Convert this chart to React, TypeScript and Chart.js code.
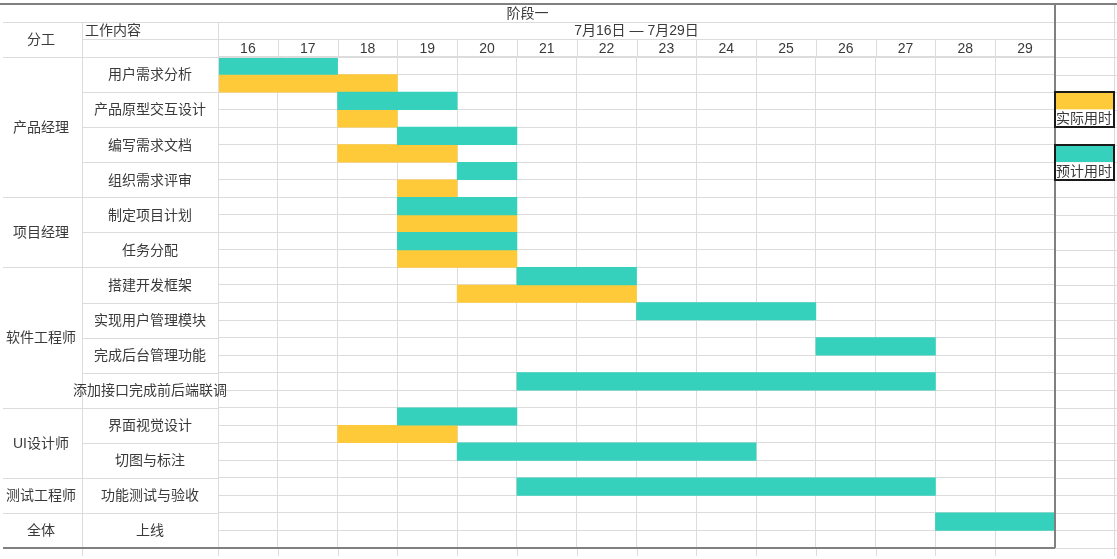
import React, { useEffect, useRef } from "react";
import { Chart, registerables } from "chart.js";

Chart.register(...registerables);

// ---- data ----
const days = [16, 17, 18, 19, 20, 21, 22, 23, 24, 25, 26, 27, 28, 29];
const stageTitle = "阶段一";
const dateRange = "7月16日 — 7月29日";
const headerRole = "分工";
const headerTask = "工作内容";
const roles = ["产品经理", "项目经理", "软件工程师", "UI设计师", "测试工程师", "全体"];
const roleTaskCounts = [4, 2, 4, 2, 1, 1];
const taskNames = [
  "用户需求分析",
  "产品原型交互设计",
  "编写需求文档",
  "组织需求评审",
  "制定项目计划",
  "任务分配",
  "搭建开发框架",
  "实现用户管理模块",
  "完成后台管理功能",
  "添加接口完成前后端联调",
  "界面视觉设计",
  "切图与标注",
  "功能测试与验收",
  "上线",
];
const planStart = [16, 18, 19, 20, 19, 19, 21, 23, 26, 21, 19, 20, 21, 28];
const planEnd = [17, 19, 20, 20, 20, 20, 22, 25, 27, 27, 20, 24, 27, 29];
const actualStart = [16, 18, 18, 19, 19, 19, 20, null, null, null, 18, null, null, null];
const actualEnd = [18, 18, 19, 19, 20, 20, 22, null, null, null, 19, null, null, null];
const legendPlan = "预计用时";
const legendActual = "实际用时";

const planColor = "#36d1bc";
const actualColor = "#ffca3a";
const gridColor = "#dcdcdc";
const darkColor = "#808080";
const textColor = "#3a3a3a";
const FONT = "14px 'Liberation Sans', 'Noto Sans CJK SC', sans-serif";

const rowLabels: string[] = [];
taskNames.forEach((t) => {
  rowLabels.push(t + "-" + legendPlan);
  rowLabels.push(t + "-" + legendActual);
});
const planData = rowLabels.map((_, r) => {
  const t = Math.floor(r / 2);
  return r % 2 === 0 ? [planStart[t] - 0.5, planEnd[t] + 0.5] : null;
});
const actualData = rowLabels.map((_, r) => {
  const t = Math.floor(r / 2);
  const s = actualStart[t];
  const e = actualEnd[t];
  return r % 2 === 1 && s != null && e != null ? [s - 0.5, e + 0.5] : null;
});

const tablePlugin = {
  id: "tablePlugin",
  afterDraw(chart: any) {
    const { ctx, chartArea: ca, scales } = chart;
    const xs = scales.x;
    const ys = scales.y;
    const n = rowLabels.length;
    const rowH = (ca.bottom - ca.top) / n;
    const edge = (i: number) =>
      i < n ? ys.getPixelForValue(i) - rowH / 2 : ys.getPixelForValue(n - 1) + rowH / 2;
    const xEdge = (k: number) => xs.getPixelForValue(days[0] - 0.5 + k);
    const W = chart.width;
    const left = 3;
    const colA = 82;
    const colB = ca.left;
    const legR = 1114;
    const h1 = 4, h2 = 22, h3 = 39;
    const bottomExt = ca.bottom + 8;

    const hline = (x1: number, x2: number, y: number, c: string, w = 1) => {
      ctx.save();
      ctx.strokeStyle = c;
      ctx.lineWidth = w;
      const yy = Math.round(y) + (w % 2 ? 0.5 : 0);
      ctx.beginPath();
      ctx.moveTo(x1, yy);
      ctx.lineTo(x2, yy);
      ctx.stroke();
      ctx.restore();
    };
    const vline = (x: number, y1: number, y2: number, c: string, w = 1) => {
      ctx.save();
      ctx.strokeStyle = c;
      ctx.lineWidth = w;
      const xx = Math.round(x) + (w % 2 ? 0.5 : 0);
      ctx.beginPath();
      ctx.moveTo(xx, y1);
      ctx.lineTo(xx, y2);
      ctx.stroke();
      ctx.restore();
    };

    // header grid
    hline(left, W, h2, gridColor);
    hline(colA, W, h3, gridColor);
    hline(left, W, edge(0), gridColor);
    vline(colA, h2, bottomExt, gridColor);
    vline(colB, h2, bottomExt, gridColor);
    for (let k = 1; k < days.length; k++) {
      vline(xEdge(k), h3, ca.top, gridColor);
      vline(xEdge(k), ca.bottom, bottomExt, gridColor);
    }
    // legend column grid
    vline(legR, h1, bottomExt, gridColor);
    for (let i = 0; i <= n; i++) hline(ca.right, W, edge(i), gridColor);
    // task column grid
    for (let t = 0; t <= taskNames.length; t++) hline(colA, colB, edge(t * 2), gridColor);
    // role column grid
    let acc = 0;
    hline(left, colA, edge(0), gridColor);
    roleTaskCounts.forEach((c) => {
      acc += c;
      hline(left, colA, edge(acc * 2), gridColor);
    });

    // dark frame
    hline(0, W, h1, darkColor, 2);
    vline(ca.right, h1, ca.bottom, darkColor, 2);
    hline(left, ca.right, ca.bottom, darkColor, 2);

    // texts
    ctx.save();
    ctx.font = FONT;
    ctx.fillStyle = textColor;
    ctx.textBaseline = "middle";
    ctx.textAlign = "center";
    ctx.fillText(stageTitle, ca.right / 2, (h1 + h2) / 2 + 1);
    ctx.fillText(dateRange, (ca.left + ca.right) / 2, (h2 + h3) / 2 + 1);
    days.forEach((d) => ctx.fillText(String(d), xs.getPixelForValue(d), (h3 + ca.top) / 2 + 1));
    ctx.fillText(headerRole, colA / 2, (h2 + ca.top) / 2 + 1);
    ctx.textAlign = "left";
    ctx.fillText(headerTask, colA + 3, (h2 + h3) / 2 + 1);
    ctx.textAlign = "center";
    taskNames.forEach((t, i) => {
      ctx.fillText(t, (colA + colB) / 2, (edge(i * 2) + edge(i * 2 + 2)) / 2 + 1);
    });
    acc = 0;
    roles.forEach((r, i) => {
      const a = edge(acc * 2);
      acc += roleTaskCounts[i];
      const b = edge(acc * 2);
      ctx.fillText(r, colA / 2, (a + b) / 2 + 1);
    });

    // legend
    const drawLegend = (row: number, color: string, label: string) => {
      const x1 = ca.right;
      const y1 = edge(row);
      const ym = edge(row + 1);
      const y2 = edge(row + 2);
      ctx.fillStyle = color;
      ctx.fillRect(x1, y1, legR - x1, ym - y1);
      ctx.fillStyle = "#ffffff";
      ctx.fillRect(x1, ym, legR - x1, y2 - ym);
      ctx.fillStyle = textColor;
      ctx.textAlign = "left";
      ctx.fillText(label, x1 + 1, (ym + y2) / 2 + 1);
      ctx.strokeStyle = "#1a1a1a";
      ctx.lineWidth = 2;
      ctx.strokeRect(Math.round(x1), Math.round(y1), Math.round(legR - x1), Math.round(y2 - y1));
    };
    drawLegend(2, actualColor, legendActual);
    drawLegend(5, planColor, legendPlan);
    ctx.restore();
  },
};

export default function App() {
  const ref = useRef<HTMLCanvasElement | null>(null);
  useEffect(() => {
    if (!ref.current) return;
    const chart = new Chart(ref.current, {
      type: "bar",
      data: {
        labels: rowLabels,
        datasets: [
          {
            label: legendPlan,
            data: planData as any,
            backgroundColor: planColor,
            borderWidth: 0,
            grouped: false,
            barPercentage: 1,
            categoryPercentage: 1,
          } as any,
          {
            label: legendActual,
            data: actualData as any,
            backgroundColor: actualColor,
            borderWidth: 0,
            grouped: false,
            barPercentage: 1,
            categoryPercentage: 1,
          } as any,
        ],
      },
      options: {
        indexAxis: "y",
        responsive: false,
        animation: false,
        devicePixelRatio: 1,
        layout: { padding: { left: 218, right: 62, top: 57, bottom: 11 } },
        plugins: { legend: { display: false }, tooltip: { enabled: false } },
        scales: {
          x: {
            type: "linear",
            min: days[0] - 0.5,
            max: days[days.length - 1] + 0.5,
            afterBuildTicks: (s: any) => {
              s.ticks = days.map((v) => ({ value: v }));
            },
            ticks: { display: false },
            grid: { offset: true, color: gridColor, lineWidth: 1, drawTicks: false },
            border: { display: false },
          },
          y: {
            type: "category",
            offset: true,
            ticks: { display: false },
            grid: { offset: true, color: gridColor, lineWidth: 1, drawTicks: false },
            border: { display: false },
          },
        },
      } as any,
      plugins: [tablePlugin],
    });
    return () => chart.destroy();
  }, []);
  return (
    <div style={{ position: "absolute", left: 0, top: 0, width: 1117, height: 559, background: "#fff" }}>
      <canvas ref={ref} width={1117} height={559} style={{ display: "block", width: 1117, height: 559 }} />
    </div>
  );
}
